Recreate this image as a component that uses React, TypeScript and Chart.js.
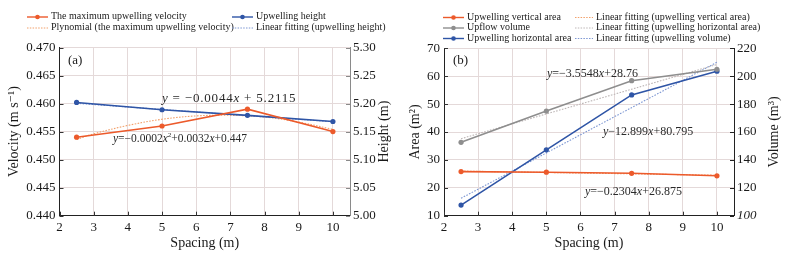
import React, { useEffect, useRef } from "react";
import { Chart, registerables } from "chart.js";

Chart.register(...registerables);

// ---------- data ----------
const spacing = [2.5, 5, 7.5, 10];
const fitSpacing = [2.5, 10];

// panel (a)
const maxVelocity = [0.454, 0.456, 0.459, 0.455];
const upwellingHeight = [5.202, 5.189, 5.179, 5.168];
const polySpacing = [2.5, 3, 4, 5, 6, 7, 8, 9, 10];
const polyVelocity = [0.4536, 0.4546, 0.4561, 0.4572, 0.4578, 0.4579, 0.4576, 0.4567, 0.4554];
const heightFit = [5.2005, 5.1675];

// panel (b)
const verticalArea = [25.8, 25.6, 25.2, 24.3];
const upflowVolume = [152.6, 175, 196.8, 205];
const horizontalArea = [13.8, 33.6, 53.3, 61.8];
const verticalAreaFit = [26.0, 24.5];
const horizontalAreaFit = [37.6, 64.2];
const volumeFit = [112.5, 210];

// ticks
const xTicks = [2, 3, 4, 5, 6, 7, 8, 9, 10];
const velocityTicks = [0.44, 0.445, 0.45, 0.455, 0.46, 0.465, 0.47];
const heightTicks = [5.0, 5.05, 5.1, 5.15, 5.2, 5.25, 5.3];
const areaTicks = [10, 20, 30, 40, 50, 60, 70];
const volumeTicks = [100, 120, 140, 160, 180, 200, 220];

// labels
const legendA = [
  "The maximum upwelling velocity",
  "Plynomial (the maximum upwelling velocity)",
  "Upwelling height",
  "Linear fitting (upwelling height)",
];
const legendB = [
  "Upwelling vertical area",
  "Upflow volume",
  "Upwelling horizontal area",
  "Linear fitting (upwelling vertical area)",
  "Linear fitting (upwelling horizontal area)",
  "Linear fitting (upwelling volume)",
];

const FONT = '"Liberation Serif", "Times New Roman", "DejaVu Serif", serif';
const ORANGE = "#ec5a2b";
const ORANGE_DOT = "#f2a06a";
const BLUE = "#2f55a6";
const BLUE_DOT = "#7d97d3";
const GRAY = "#8e8e8e";
const GRAY_DOT = "#bdb6b6";
const GRID = "#e4d9d9";

const pts = (xs: number[], ys: number[]) => xs.map((x, i) => ({ x, y: ys[i] }));

type Seg = { t: string; i?: boolean; sup?: boolean };

function solid(label: string, data: any, color: string, axis: string) {
  return {
    label,
    data,
    yAxisID: axis,
    borderColor: color,
    backgroundColor: color,
    borderWidth: 1.6,
    pointRadius: 2.6,
    pointBackgroundColor: color,
    pointBorderColor: color,
    pointBorderWidth: 0,
    tension: 0,
    order: 0,
    _dashed: false,
  };
}
function dotted(label: string, data: any, color: string, axis: string, tension = 0) {
  return {
    label,
    data,
    yAxisID: axis,
    borderColor: color,
    backgroundColor: color,
    borderWidth: 1.1,
    borderDash: [1.6, 1.4],
    pointRadius: 0,
    tension,
    order: 1,
    _dashed: true,
  };
}

function makePlugin(cfg: {
  legendCols: number[];
  legendRows: number[];
  legendIconW: number[];
  panel: string;
  panelPos: [number, number];
  eqs: { x: number; y: number; size: number; spacing?: number; segs: Seg[] }[];
  rightTitle: string;
  rightTitleX: number;
  rightTickColor: string;
}) {
  return {
    id: "deco" + cfg.panel,
    afterDraw(chart: any) {
      const ctx = chart.ctx as CanvasRenderingContext2D;
      const ca = chart.chartArea;
      ctx.save();
      // inside tick marks
      const xs = chart.scales.x;
      const yl = chart.scales.y;
      const yr = chart.scales.y1;
      ctx.lineWidth = 1;
      ctx.strokeStyle = "#333";
      ctx.beginPath();
      xs.ticks.forEach((t: any) => {
        const px = Math.round(xs.getPixelForValue(t.value)) + 0.5;
        ctx.moveTo(px, ca.bottom);
        ctx.lineTo(px, ca.bottom - 4);
      });
      yl.ticks.forEach((t: any) => {
        const py = Math.round(yl.getPixelForValue(t.value)) + 0.5;
        ctx.moveTo(ca.left, py);
        ctx.lineTo(ca.left + 4, py);
      });
      ctx.stroke();
      ctx.strokeStyle = cfg.rightTickColor;
      ctx.beginPath();
      yr.ticks.forEach((t: any) => {
        const py = Math.round(yr.getPixelForValue(t.value)) + 0.5;
        ctx.moveTo(ca.right, py);
        ctx.lineTo(ca.right - 4, py);
      });
      ctx.stroke();

      // legend
      ctx.font = `10px ${FONT}`;
      ctx.textBaseline = "middle";
      ctx.textAlign = "left";
      const ds = chart.data.datasets;
      ds.forEach((d: any, i: number) => {
        const c = Math.floor(i / cfg.legendRows.length);
        const r = i % cfg.legendRows.length;
        const x = cfg.legendCols[c];
        const y = cfg.legendRows[r];
        const w = cfg.legendIconW[c];
        ctx.strokeStyle = d.borderColor;
        ctx.lineWidth = d._dashed ? 1 : 1.4;
        ctx.setLineDash(d._dashed ? [1.5, 1.3] : []);
        ctx.beginPath();
        ctx.moveTo(x, y + 0.5);
        ctx.lineTo(x + w, y + 0.5);
        ctx.stroke();
        ctx.setLineDash([]);
        if (!d._dashed) {
          ctx.fillStyle = d.borderColor;
          ctx.beginPath();
          ctx.arc(x + w / 2, y + 0.5, 2.3, 0, Math.PI * 2);
          ctx.fill();
        }
        ctx.fillStyle = "#1a1a1a";
        ctx.fillText(d.label, x + w + 3, y);
      });

      // panel label
      ctx.font = `13px ${FONT}`;
      ctx.fillStyle = "#1a1a1a";
      ctx.fillText(`(${cfg.panel})`, cfg.panelPos[0], cfg.panelPos[1]);

      // equations
      cfg.eqs.forEach((eq) => {
        let x = eq.x;
        (ctx as any).letterSpacing = `${eq.spacing || 0}px`;
        eq.segs.forEach((s) => {
          const size = s.sup ? eq.size * 0.62 : eq.size;
          ctx.font = `${s.i ? "italic " : ""}${size}px ${FONT}`;
          ctx.fillStyle = "#2a2a2a";
          ctx.fillText(s.t, x, s.sup ? eq.y - eq.size * 0.3 : eq.y);
          x += ctx.measureText(s.t).width;
        });
        (ctx as any).letterSpacing = "0px";
      });

      // right axis title (reads bottom-to-top)
      ctx.font = `14px ${FONT}`;
      ctx.fillStyle = "#1a1a1a";
      ctx.textAlign = "center";
      ctx.translate(cfg.rightTitleX, (ca.top + ca.bottom) / 2);
      ctx.rotate(-Math.PI / 2);
      ctx.fillText(cfg.rightTitle, 0, 0);
      ctx.restore();
    },
  };
}

function xScale() {
  return {
    type: "linear",
    min: 2,
    max: 10.5,
    afterBuildTicks: (s: any) => {
      s.ticks = xTicks.map((v) => ({ value: v }));
    },
    afterFit: (s: any) => {
      s.height = 42.3;
    },
    ticks: { padding: 4, color: "#1a1a1a", font: { size: 13, family: FONT }, callback: (v: any) => String(v) },
    grid: { color: GRID, lineWidth: 1, drawTicks: false },
    border: { display: true, color: "#222", width: 1 },
    title: {
      display: true,
      text: "Spacing (m)",
      color: "#1a1a1a",
      font: { size: 14, family: FONT },
      padding: { top: 0, bottom: 6.5 },
    },
  };
}

function leftScale(min: number, max: number, tv: number[], dec: number, title: string, width: number, tpad: number) {
  return {
    type: "linear",
    position: "left",
    min,
    max,
    afterBuildTicks: (s: any) => {
      s.ticks = tv.map((v) => ({ value: v }));
    },
    afterFit: (s: any) => {
      s.width = width;
    },
    ticks: { padding: 4, color: "#1a1a1a", font: { size: 13, family: FONT }, callback: (v: any) => Number(v).toFixed(dec) },
    grid: { color: GRID, lineWidth: 1, drawTicks: false },
    border: { display: true, color: "#222", width: 1 },
    title: {
      display: true,
      text: title,
      color: "#1a1a1a",
      font: { size: 14, family: FONT },
      padding: { top: tpad, bottom: 0 },
    },
  };
}

function rightScale(min: number, max: number, tv: number[], dec: number, width: number, color: string, italicFirst: boolean) {
  return {
    type: "linear",
    position: "right",
    min,
    max,
    afterBuildTicks: (s: any) => {
      s.ticks = tv.map((v) => ({ value: v }));
    },
    afterFit: (s: any) => {
      s.width = width;
    },
    ticks: {
      padding: 3,
      color: "#1a1a1a",
      font: (c: any) => ({
        size: 13,
        family: FONT,
        style: italicFirst && c.tick && c.tick.value === min ? "italic" : "normal",
      }),
      callback: (v: any) => Number(v).toFixed(dec),
    },
    grid: { display: false, drawTicks: false },
    border: { display: true, color, width: 1 },
  };
}

function buildA(canvas: HTMLCanvasElement) {
  return new Chart(canvas, {
    type: "line",
    data: {
      datasets: [
        solid(legendA[0], pts(spacing, maxVelocity), ORANGE, "y"),
        dotted(legendA[1], pts(polySpacing, polyVelocity), ORANGE_DOT, "y", 0.35),
        solid(legendA[2], pts(spacing, upwellingHeight), BLUE, "y1"),
        dotted(legendA[3], pts(fitSpacing, heightFit), BLUE_DOT, "y1"),
      ] as any,
    },
    options: {
      responsive: false,
      animation: false,
      devicePixelRatio: 1,
      layout: { padding: { top: 47.5, left: 0, right: 0, bottom: 0 } },
      plugins: { legend: { display: false }, tooltip: { enabled: false } },
      scales: {
        x: xScale(),
        y: leftScale(0.44, 0.47, velocityTicks, 3, "Velocity (m s\u207B\u00B9)", 59.5, 5.5),
        y1: rightScale(5.0, 5.3, heightTicks, 2, 43, "#8a8a8a", false),
      } as any,
    },
    plugins: [
      makePlugin({
        legendCols: [27, 232],
        legendRows: [16.5, 27.5],
        legendIconW: [21, 21],
        panel: "a",
        panelPos: [68, 61],
        eqs: [
          {
            x: 162,
            y: 99,
            size: 13,
            spacing: 0.8,
            segs: [{ t: "y", i: true }, { t: " = \u22120.0044" }, { t: "x", i: true }, { t: " + 5.2115" }],
          },
          {
            x: 113,
            y: 139,
            size: 11.5,
            segs: [
              { t: "y", i: true },
              { t: "=\u22120.0002" },
              { t: "x", i: true },
              { t: "2", sup: true },
              { t: "+0.0032" },
              { t: "x", i: true },
              { t: "+0.447" },
            ],
          },
        ],
        rightTitle: "Height (m)",
        rightTitleX: 384,
        rightTickColor: "#8a8a8a",
      }),
    ],
  } as any);
}

function buildB(canvas: HTMLCanvasElement) {
  return new Chart(canvas, {
    type: "line",
    data: {
      datasets: [
        solid(legendB[0], pts(spacing, verticalArea), ORANGE, "y"),
        solid(legendB[1], pts(spacing, upflowVolume), GRAY, "y1"),
        solid(legendB[2], pts(spacing, horizontalArea), BLUE, "y"),
        dotted(legendB[3], pts(fitSpacing, verticalAreaFit), ORANGE_DOT, "y"),
        dotted(legendB[4], pts(fitSpacing, horizontalAreaFit), GRAY_DOT, "y"),
        dotted(legendB[5], pts(fitSpacing, volumeFit), BLUE_DOT, "y1"),
      ] as any,
    },
    options: {
      responsive: false,
      animation: false,
      devicePixelRatio: 1,
      layout: { padding: { top: 48.3, left: 0, right: 0, bottom: 0 } },
      plugins: { legend: { display: false }, tooltip: { enabled: false } },
      scales: {
        x: xScale(),
        y: leftScale(10, 70, areaTicks, 0, "Area (m\u00B2)", 51, 13.5),
        y1: rightScale(100, 220, volumeTicks, 0, 53, "#222", true),
      } as any,
    },
    plugins: [
      makePlugin({
        legendCols: [50, 182],
        legendRows: [17, 27.5, 38],
        legendIconW: [21, 18],
        panel: "b",
        panelPos: [60, 61],
        eqs: [
          {
            x: 154,
            y: 74,
            size: 12,
            segs: [{ t: "y", i: true }, { t: "=\u22123.5548" }, { t: "x", i: true }, { t: "+28.76" }],
          },
          {
            x: 210,
            y: 132,
            size: 12,
            segs: [{ t: "y", i: true }, { t: "\u221212.899" }, { t: "x", i: true }, { t: "+80.795" }],
          },
          {
            x: 192,
            y: 192,
            size: 12,
            segs: [{ t: "y", i: true }, { t: "=\u22120.2304" }, { t: "x", i: true }, { t: "+26.875" }],
          },
        ],
        rightTitle: "Volume (m\u00B3)",
        rightTitleX: 381,
        rightTickColor: "#222",
      }),
    ],
  } as any);
}

export default function App() {
  const refA = useRef<HTMLCanvasElement>(null);
  const refB = useRef<HTMLCanvasElement>(null);
  useEffect(() => {
    Chart.defaults.font.family = FONT;
    const a = buildA(refA.current!);
    const b = buildB(refB.current!);
    return () => {
      a.destroy();
      b.destroy();
    };
  }, []);
  return (
    <div
      style={{
        position: "fixed",
        left: 0,
        top: 0,
        width: 787,
        height: 258,
        background: "#fff",
        display: "flex",
      }}
    >
      <canvas ref={refA} width={393} height={258} style={{ width: 393, height: 258, display: "block" }} />
      <canvas ref={refB} width={394} height={258} style={{ width: 394, height: 258, display: "block" }} />
    </div>
  );
}
